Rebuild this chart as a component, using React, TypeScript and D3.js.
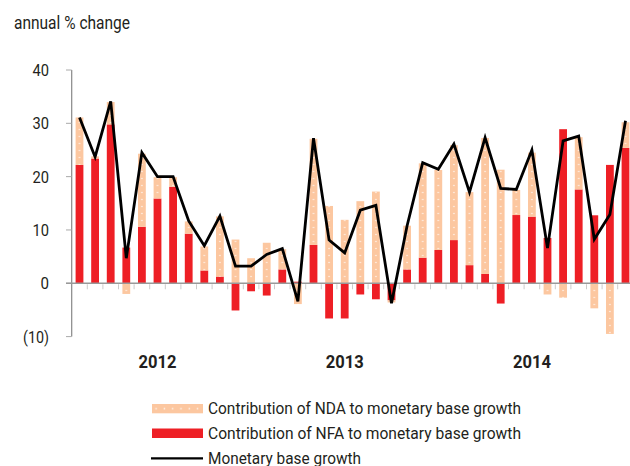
import React from "react";
import * as d3 from "d3";

const months: string[] = d3.range(36).map((i) => `${2012 + Math.floor(i / 12)}-${String((i % 12) + 1).padStart(2, "0")}`);
const nfa: number[] = [22.2, 23.4, 29.8, 6.7, 10.6, 15.9, 18.1, 9.3, 2.4, 1.25, -5.1, -1.5,
  -2.3, 2.6, 0.3, 7.2, -6.6, -6.6, -2.1, -3.0, -3.2, 2.6, 4.8, 6.25,
  8.1, 3.4, 1.75, -3.8, 12.8, 12.5, 8.5, 28.9, 17.6, 12.75, 22.2, 25.4];
const nda: number[] = [8.9, 0.4, 4.2, -2.0, 13.7, 4.0, 1.8, 2.3, 4.5, 11.3, 8.2, 4.7,
  7.6, 3.8, -3.9, 19.9, 14.5, 11.9, 15.4, 17.2, -0.4, 8.2, 17.7, 15.0,
  17.8, 13.7, 25.5, 21.3, 4.7, 12.0, -2.1, -2.7, 9.8, -4.7, -9.5, 4.8];
const baseGrowth: number[] = [31.1, 23.7, 34.1, 4.7, 24.5, 20.0, 20.0, 11.7, 7.05, 12.6, 3.2, 3.2,
  5.4, 6.5, -3.4, 27.2, 8.1, 5.7, 13.7, 14.6, -3.75, 10.8, 22.6, 21.4,
  26.1, 17.1, 27.3, 17.8, 17.6, 25.0, 6.6, 26.7, 27.6, 8.25, 12.9, 30.5];
const yTicks: number[] = [40, 30, 20, 10, 0, -10];
const yearLabels: string[] = ["2012", "2013", "2014"];
const legendLabels: string[] = [
  "Contribution of NDA to monetary base growth",
  "Contribution of NFA to monetary base growth",
  "Monetary base growth",
];

const W = 630, H = 466;
const PEACH = "#FCC7A0";
const RED = "#EE1F25";
const TEXT = "#231F20";

export default function App() {
  const x = d3.scaleBand<string>().domain(months).range([71.7, 71.7 + 36 * 15.6]).paddingInner(0.5).paddingOuter(0.25);
  const y = d3.scaleLinear().domain([-10, 40]).range([336.6, 70]);

  const rows = months.map((m, i) => ({ m, nfa: nfa[i], nda: nda[i] }));
  const stack = d3.stack<any>().keys(["nfa", "nda"]).offset(d3.stackOffsetDiverging);
  const series = stack(rows);

  const line = d3.line<number>()
    .x((_, i) => (x(months[i]) as number) + x.bandwidth() / 2)
    .y((d) => y(d));

  const step = x.step();
  const x0 = x.range()[0];
  const labelWidth = (t: number) => (t < 0 ? 26 : t === 0 ? 8.5 : 16.5);

  return (
    <svg width={W} height={H} style={{ position: "absolute", left: 0, top: 0, fontFamily: "Roboto, sans-serif" }}>
      <defs>
        <pattern id="dots" patternUnits="userSpaceOnUse" width={7.8} height={7} x={x0 + step * 0.25 + x.bandwidth() / 2 - 3.9} y={0}>
          <rect width={7.8} height={7} fill={PEACH} />
          <circle cx={3.9} cy={3.5} r={0.8} fill="#ffffff" opacity={0.8} />
        </pattern>
        <pattern id="dotsLegend" patternUnits="userSpaceOnUse" width={8.3} height={9.3} x={152} y={404}>
          <rect width={8.3} height={9.3} fill={PEACH} />
          <circle cx={4.1} cy={4.6} r={0.8} fill="#ffffff" opacity={0.8} />
        </pattern>
      </defs>
      <text x={14} y={29} fontSize={18} fill={TEXT} textLength={116} lengthAdjust="spacingAndGlyphs">annual % change</text>

      {/* y axis */}
      <line x1={71.7} x2={71.7} y1={y(40)} y2={y(-10)} stroke="#888" strokeWidth={1.2} />
      {yTicks.map((t) => (
        <g key={t}>
          <line x1={66} x2={71.7} y1={y(t)} y2={y(t)} stroke="#aaa" strokeWidth={1} />
          <text x={49} y={y(t)} dy="0.36em" textAnchor="end" fontSize={17} fill={TEXT}
            textLength={labelWidth(t)} lengthAdjust="spacingAndGlyphs">
            {t < 0 ? `(${Math.abs(t)})` : t}
          </text>
        </g>
      ))}

      {/* bars */}
      {series.map((s) => (
        <g key={s.key} fill={s.key === "nfa" ? RED : "url(#dots)"}>
          {s.map((d, i) => (
            <rect key={i} x={x(months[i])} width={x.bandwidth()} y={y(Math.max(d[0], d[1]))}
              height={Math.abs(y(d[0]) - y(d[1]))} />
          ))}
        </g>
      ))}

      {/* zero line + minor ticks */}
      <line x1={66} x2={W} y1={y(0)} y2={y(0)} stroke="#999" strokeWidth={1.5} />
      {d3.range(1, 37).map((k) => (
        <line key={k} x1={x0 + k * step} x2={x0 + k * step} y1={y(0) + 1} y2={y(0) + 6} stroke="#ccc" strokeWidth={1} />
      ))}

      <path d={line(baseGrowth) || ""} fill="none" stroke="#000" strokeWidth={2.8} strokeLinejoin="miter" />

      {yearLabels.map((yl, k) => (
        <text key={yl} x={(x(months[k * 12 + 5]) as number) + x.bandwidth() / 2} y={368} textAnchor="middle"
          fontSize={17.5} fontWeight="bold" fill={TEXT} textLength={38} lengthAdjust="spacingAndGlyphs">{yl}</text>
      ))}

      {/* legend */}
      <rect x={152} y={404} width={51} height={9.3} fill="url(#dotsLegend)" />
      <text x={208} y={414} fontSize={17} fill={TEXT} textLength={313} lengthAdjust="spacingAndGlyphs">{legendLabels[0]}</text>
      <rect x={152} y={428.5} width={51} height={9.5} fill={RED} />
      <text x={208} y={439.3} fontSize={17} fill={TEXT} textLength={313} lengthAdjust="spacingAndGlyphs">{legendLabels[1]}</text>
      <line x1={151} x2={203} y1={458.3} y2={458.3} stroke="#000" strokeWidth={2.2} />
      <text x={208} y={464} fontSize={17} fill={TEXT} textLength={153} lengthAdjust="spacingAndGlyphs">{legendLabels[2]}</text>
    </svg>
  );
}
